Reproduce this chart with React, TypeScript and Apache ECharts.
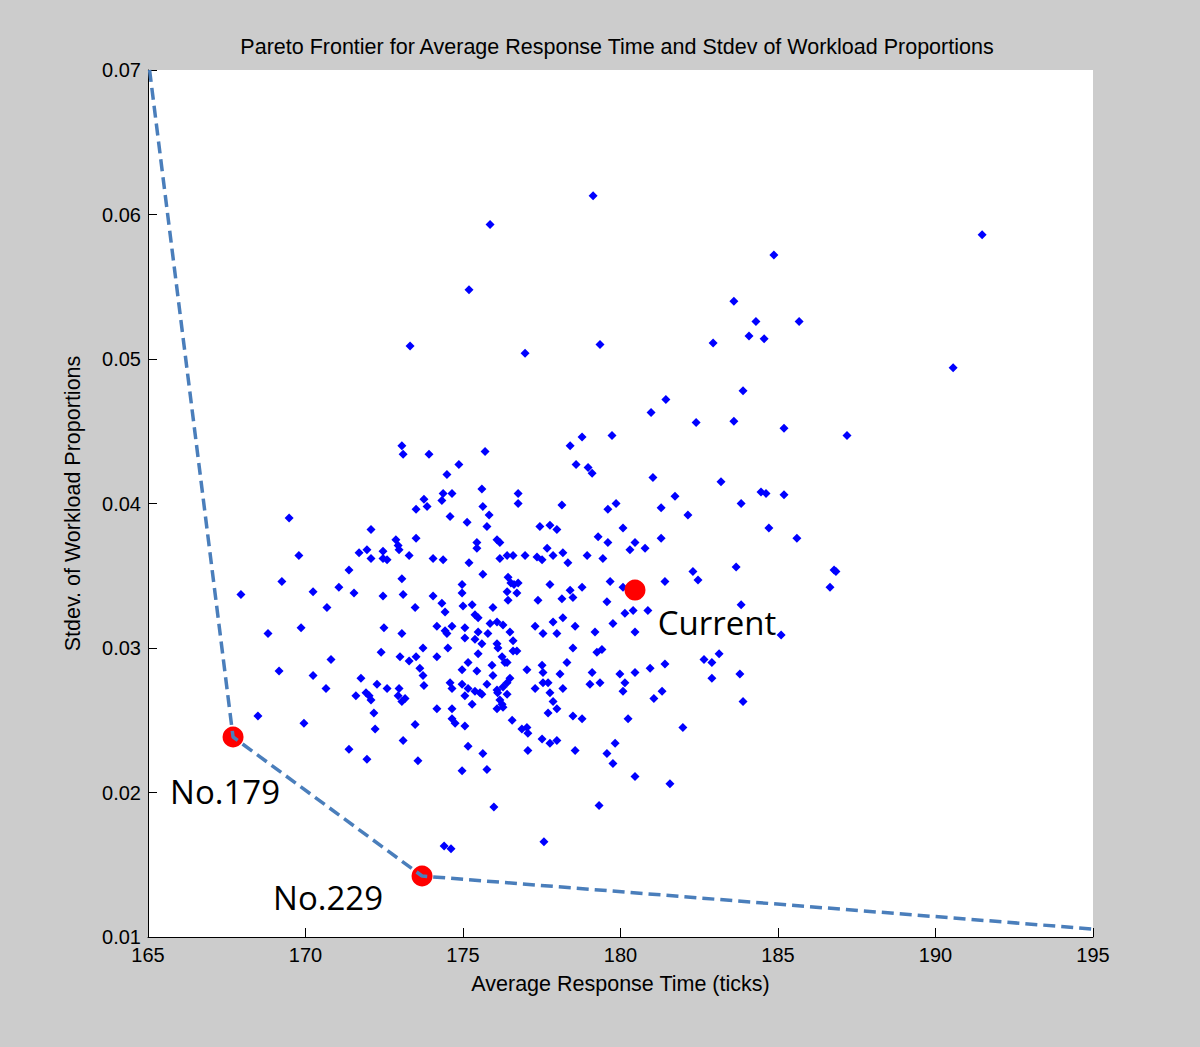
import React, { useEffect, useRef } from "react";
import * as echarts from "echarts";

const TITLE = "Pareto Frontier for Average Response Time and Stdev of Workload Proportions";
const X_NAME = "Average Response Time (ticks)";
const Y_NAME = "Stdev. of Workload Proportions";

const xTicks = { min: 165, max: 195, interval: 5 };
const yTicks = { min: 0.01, max: 0.07, interval: 0.01 };

// candidate solutions: average response time (ticks)
const responseTime = [
  179.13, 191.48, 175.86, 184.87, 175.19, 183.6, 184.3, 185.67, 184.08, 184.56,
  173.32, 179.35, 176.97, 182.94, 190.56, 183.89, 181.44, 180.97, 182.4, 183.6,
  185.19, 187.19, 179.73, 178.78, 178.4, 173.06, 173.1, 173.51, 169.48, 172.08,
  173.51, 172.87, 172.94, 172.97, 171.95, 171.7, 172.46, 169.79, 172.08, 172.46,
  172.59, 173.29, 171.38, 173.06, 169.25, 171.06, 167.95, 170.24, 171.54, 172.46,
  173.1, 173.92, 175.7, 174.87, 174.49, 178.59, 178.97, 179.1, 175.6, 176.75,
  176.75, 174.37, 174.65, 174.33, 173.76, 173.86, 175.63, 175.83, 174.59, 175.13,
  175.76, 178.14, 179.6, 179.86, 177.44, 177.76, 177.98, 179.29, 179.6, 176.08,
  176.17, 175.44, 175.44, 177.67, 178.17, 177.86, 174.05, 174.37, 175.19, 176.17,
  176.4, 176.59, 176.97, 177.35, 177.51, 178.33, 178.94, 179.44, 175.63, 176.43,
  176.52, 176.75, 176.62, 174.97, 174.97, 176.4, 176.71, 177.76, 178.4, 178.78,
  179.67, 174.05, 178.14, 178.49, 176.43, 181.03, 183.19, 184.46, 184.62, 185.19,
  181.73, 181.29, 183.83, 182.14, 180.08, 184.71, 181.29, 185.6, 180.46, 180.3,
  180.78, 182.3, 182.46, 183.67, 186.78, 186.84, 186.65, 181.41, 180.08, 170.68,
  173.48, 168.81, 169.86, 172.49, 173.06, 170.81, 172.4, 173.0, 173.29, 173.51,
  173.63, 169.16, 170.24, 170.65, 171.76, 172.27, 172.59, 172.97, 172.94, 171.92,
  172.02, 171.6, 172.08, 173.16, 173.06, 172.17, 168.49, 169.95, 172.21, 173.48,
  173.1, 171.38, 171.95, 173.57, 174.33, 174.43, 175.0, 175.29, 175.95, 177.38,
  179.57, 175.38, 175.48, 178.17, 174.17, 174.43, 174.49, 174.65, 175.06, 175.48,
  175.86, 176.08, 176.27, 176.49, 175.79, 177.29, 177.54, 177.86, 177.98, 178.56,
  179.19, 179.76, 175.06, 175.38, 175.6, 176.08, 176.59, 173.73, 174.52, 176.11,
  176.59, 176.71, 178.49, 179.25, 179.41, 175.48, 174.17, 176.24, 176.33, 176.4,
  175.16, 175.92, 178.3, 174.97, 175.44, 177.03, 177.51, 177.54, 178.08, 179.1,
  179.98, 173.73, 175.95, 176.49, 176.4, 177.54, 177.7, 179.03, 179.35, 174.59,
  174.65, 174.97, 175.76, 176.27, 173.76, 175.16, 175.38, 175.54, 175.6, 176.08,
  176.1, 176.4, 177.29, 177.76, 178.17, 175.06, 176.17, 177.86, 175.29, 176.24,
  174.17, 174.65, 176.08, 176.27, 177.98, 177.7, 178.49, 178.78, 174.65, 174.75,
  175.06, 176.56, 176.87, 177.03, 177.06, 177.51, 177.76, 177.98, 175.16, 179.83,
  175.63, 177.06, 178.56, 179.57, 179.76, 174.97, 175.76, 180.14, 180.4, 180.87,
  183.83, 180.46, 185.1, 182.65, 182.9, 183.13, 181.41, 180.94, 180.46, 180.14,
  180.08, 182.9, 183.79, 181.32, 181.06, 183.89, 180.24, 181.98, 180.46, 181.57,
  175.98, 179.32, 174.4, 174.62, 177.57,
];

// candidate solutions: stdev of workload proportions
const workloadStdev = [
  0.0613, 0.0586, 0.0593, 0.0572, 0.0548, 0.054, 0.0526, 0.0526, 0.0516, 0.0514,
  0.0509, 0.051, 0.0504, 0.0511, 0.0494, 0.0478, 0.0472, 0.0463, 0.0456, 0.0457,
  0.0452, 0.0447, 0.0447, 0.0446, 0.044, 0.044, 0.0434, 0.0396, 0.039, 0.0382,
  0.0376, 0.0375, 0.0371, 0.0368, 0.0368, 0.0366, 0.0367, 0.0364, 0.0362, 0.0362,
  0.0361, 0.0364, 0.0354, 0.0348, 0.0346, 0.0342, 0.0337, 0.0339, 0.0338, 0.0336,
  0.0337, 0.0434, 0.0436, 0.0427, 0.042, 0.0427, 0.0425, 0.0421, 0.041, 0.0407,
  0.04, 0.0407, 0.0407, 0.0402, 0.0403, 0.0398, 0.0398, 0.0392, 0.0391, 0.0387,
  0.0384, 0.0399, 0.0396, 0.04, 0.0384, 0.0385, 0.0382, 0.0377, 0.0373, 0.0375,
  0.0373, 0.0373, 0.0369, 0.0369, 0.0366, 0.0364, 0.0362, 0.0361, 0.0359, 0.0362,
  0.0364, 0.0364, 0.0364, 0.0363, 0.0361, 0.0359, 0.0364, 0.0362, 0.0351, 0.0349,
  0.0345, 0.0345, 0.0344, 0.0344, 0.0338, 0.0339, 0.0338, 0.0344, 0.034, 0.0342,
  0.0346, 0.0336, 0.0334, 0.0335, 0.0333, 0.0418, 0.0415, 0.0408, 0.0407, 0.0406,
  0.0405, 0.0397, 0.04, 0.0392, 0.0383, 0.0383, 0.0376, 0.0376, 0.0373, 0.0368,
  0.0369, 0.0353, 0.0347, 0.0356, 0.0354, 0.0353, 0.0342, 0.0346, 0.0342, 0.0328,
  0.0328, 0.031, 0.0314, 0.0314, 0.031, 0.0292, 0.0297, 0.0294, 0.0291, 0.0294,
  0.0286, 0.0284, 0.0281, 0.0272, 0.0279, 0.0275, 0.0272, 0.0272, 0.0267, 0.0269,
  0.0267, 0.0267, 0.0264, 0.0265, 0.0263, 0.0255, 0.0253, 0.0248, 0.0244, 0.0247,
  0.0236, 0.023, 0.0223, 0.0222, 0.0331, 0.0325, 0.0329, 0.033, 0.0328, 0.0333,
  0.0332, 0.0323, 0.0321, 0.0321, 0.0315, 0.0312, 0.031, 0.0315, 0.0314, 0.0311,
  0.0317, 0.0318, 0.0316, 0.0311, 0.031, 0.0315, 0.031, 0.0318, 0.031, 0.0315,
  0.0311, 0.0317, 0.0307, 0.0306, 0.0303, 0.0303, 0.0305, 0.03, 0.03, 0.03,
  0.0298, 0.0298, 0.03, 0.0297, 0.0299, 0.0296, 0.0294, 0.0294, 0.029, 0.029,
  0.029, 0.0288, 0.029, 0.0285, 0.0284, 0.0285, 0.0288, 0.0283, 0.0282, 0.0283,
  0.0282, 0.0281, 0.0281, 0.0279, 0.0276, 0.0276, 0.0276, 0.0275, 0.0276, 0.0276,
  0.0272, 0.0275, 0.0275, 0.0273, 0.0274, 0.0272, 0.027, 0.0269, 0.0268, 0.0271,
  0.0269, 0.0268, 0.0272, 0.0269, 0.0272, 0.0267, 0.0264, 0.0263, 0.0261, 0.0261,
  0.0258, 0.0258, 0.0258, 0.0259, 0.0258, 0.0255, 0.0253, 0.0251, 0.0251, 0.0248,
  0.0246, 0.025, 0.0244, 0.0245, 0.0241, 0.0237, 0.0234, 0.0236, 0.0232, 0.0234,
  0.0227, 0.0229, 0.0229, 0.0227, 0.022, 0.0215, 0.0216, 0.0324, 0.0326, 0.0326,
  0.033, 0.0311, 0.0309, 0.0292, 0.029, 0.0296, 0.0289, 0.0286, 0.0283, 0.0276,
  0.027, 0.0279, 0.0282, 0.027, 0.0265, 0.0263, 0.0251, 0.0245, 0.0211, 0.0206,
  0.019, 0.0191, 0.0163, 0.0161, 0.0166,
];

// highlighted solutions
const highlightNames = ["No.179", "No.229", "Current"];
const highlightTime = [167.7, 173.7, 180.46];
const highlightStdev = [0.02384, 0.01422, 0.03401];

// Pareto frontier vertices
const frontierTime = [165.05, 167.7, 173.7, 195];
const frontierStdev = [0.07, 0.02384, 0.01422, 0.01055];

const labelOffsets: Record<string, [number, number]> = {
  "No.179": [-8, 54],
  "No.229": [-94, 21],
  Current: [82, 32],
};

const AXIS_FONT = "'Liberation Sans', Arial, sans-serif";

export default function App() {
  const ref = useRef<HTMLDivElement>(null);

  useEffect(() => {
    if (!ref.current) return;
    const chart = echarts.init(ref.current, null, { renderer: "svg" });
    const cloud = responseTime.map((x, i) => [x, workloadStdev[i]]);
    const highlights = highlightNames.map((n, i) => ({
      name: n,
      value: [highlightTime[i], highlightStdev[i]],
      label: {
        show: true,
        position: "inside",
        offset: labelOffsets[n],
        formatter: n,
        fontFamily: "'Open Sans', 'Noto Sans', sans-serif",
        fontSize: 33,
        color: "#000",
      },
    }));
    const frontier = frontierTime.map((x, i) => [x, frontierStdev[i]]);

    chart.setOption({
      animation: false,
      backgroundColor: "#cccccc",
      title: {
        text: TITLE,
        left: 612,
        top: 31,
        textAlign: "center",
        textStyle: { fontFamily: AXIS_FONT, fontSize: 21.5, fontWeight: "normal", color: "#000" },
      },
      grid: {
        left: 148,
        top: 70,
        width: 945,
        height: 867,
        show: true,
        backgroundColor: "#ffffff",
        borderWidth: 0,
      },
      xAxis: {
        type: "value",
        min: xTicks.min,
        max: xTicks.max,
        interval: xTicks.interval,
        name: X_NAME,
        nameLocation: "middle",
        nameGap: 36,
        nameTextStyle: { fontFamily: AXIS_FONT, fontSize: 21.5, color: "#000" },
        axisLine: { show: true, onZero: false, lineStyle: { color: "#000", width: 1 } },
        axisTick: { show: true, inside: true, length: 9, lineStyle: { color: "#000" } },
        axisLabel: { fontFamily: AXIS_FONT, fontSize: 20, color: "#000", margin: 8 },
        splitLine: { show: false },
      },
      yAxis: {
        type: "value",
        min: yTicks.min,
        max: yTicks.max,
        interval: yTicks.interval,
        name: Y_NAME,
        nameLocation: "middle",
        nameGap: 64,
        nameTextStyle: { fontFamily: AXIS_FONT, fontSize: 21.5, color: "#000" },
        axisLine: { show: true, onZero: false, lineStyle: { color: "#000", width: 1 } },
        axisTick: { show: true, inside: true, length: 9, lineStyle: { color: "#000" } },
        axisLabel: {
          fontFamily: AXIS_FONT,
          fontSize: 20,
          color: "#000",
          margin: 7,
          formatter: (v: number) => v.toFixed(2),
        },
        splitLine: { show: false },
      },
      series: [
        {
          type: "scatter",
          data: cloud,
          symbol: "diamond",
          symbolSize: 9,
          itemStyle: { color: "#0000ff", opacity: 1 },
          z: 2,
        },
        {
          type: "scatter",
          data: highlights,
          symbol: "circle",
          symbolSize: 21,
          itemStyle: { color: "#ff0000", opacity: 1 },
          z: 3,
        },
        {
          type: "line",
          data: frontier,
          symbol: "none",
          clip: false,
          lineStyle: { color: "#4a7ebb", width: 3.5, type: [12, 6] },
          z: 4,
        },
      ],
    });
    return () => chart.dispose();
  }, []);

  return (
    <div
      ref={ref}
      style={{ position: "absolute", left: 0, top: 0, width: 1200, height: 1047 }}
    />
  );
}
